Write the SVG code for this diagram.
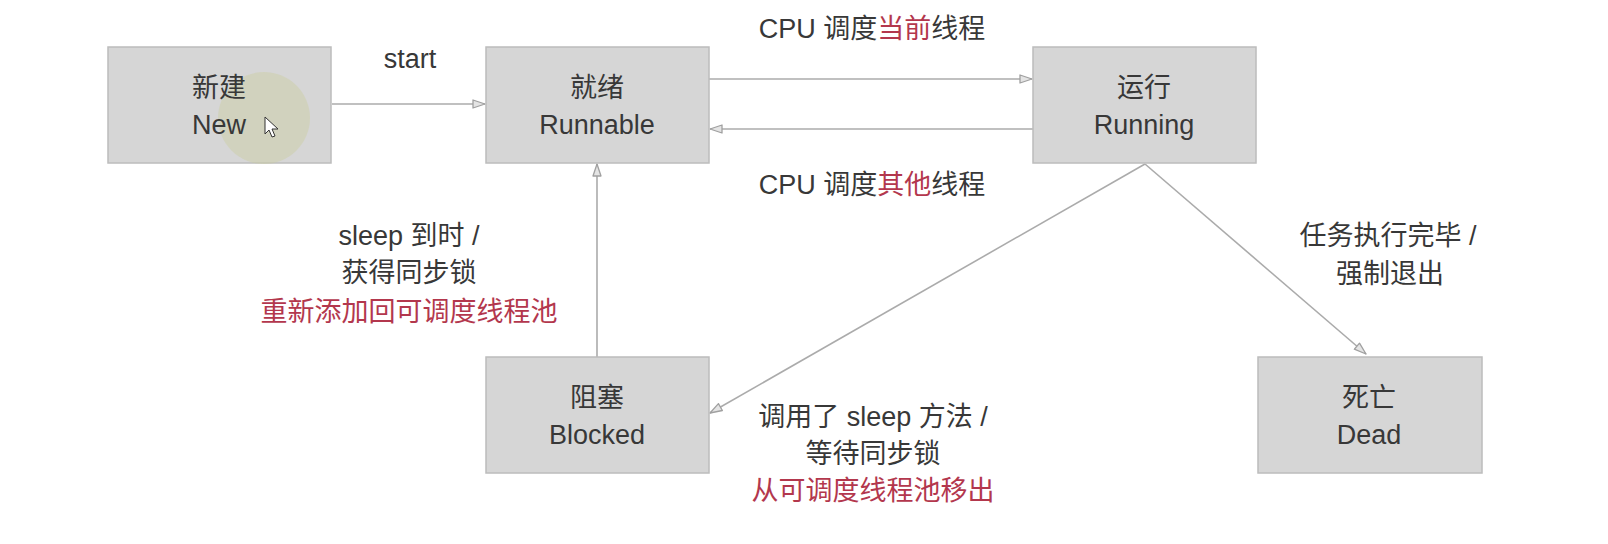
<svg xmlns="http://www.w3.org/2000/svg" width="1608" height="544" viewBox="0 0 1608 544">
<style>
.box{fill:#d6d6d6;stroke:#bcbcbc;stroke-width:1.5}
.t{font-family:"Liberation Sans","Noto Sans CJK SC",sans-serif;font-size:27px;fill:#383838;text-anchor:middle}
.lbl{font-family:"Liberation Sans","Noto Sans CJK SC",sans-serif;font-size:27px;fill:#383838;text-anchor:middle}
.red{fill:#b3374d}
.edge{fill:none;stroke:#ababab;stroke-width:1.6;marker-end:url(#arr)}
</style>
<defs>
<marker id="arr" markerUnits="userSpaceOnUse" markerWidth="16" markerHeight="12" refX="13" refY="5" orient="auto">
<path d="M1,1 L13,5 L1,9 z" fill="#e4e4e4" stroke="#a0a0a0" stroke-width="1.3" stroke-linejoin="round"/>
</marker>
</defs>
<rect width="1608" height="544" fill="#ffffff"/>
<g id="edges">
<path class="edge" d="M332,104 L485,104"/>
<path class="edge" d="M709,79 L1032,79"/>
<path class="edge" d="M1033,129 L710,129"/>
<path class="edge" d="M597,357 L597,164"/>
<path class="edge" d="M1145,164 L710,413"/>
<path class="edge" d="M1145,164 L1366,354"/>
<text class="lbl" x="410" y="68">start</text>
<text class="lbl" x="872" y="38">CPU 调度<tspan class="red">当前</tspan>线程</text>
<text class="lbl" x="872" y="194">CPU 调度<tspan class="red">其他</tspan>线程</text>
<text class="lbl" x="409" y="245">sleep 到时 /</text>
<text class="lbl" x="409" y="282">获得同步锁</text>
<text class="lbl red" x="409" y="321">重新添加回可调度线程池</text>
<text class="lbl" x="873" y="426">调用了 sleep 方法 /</text>
<text class="lbl" x="873" y="463">等待同步锁</text>
<text class="lbl red" x="873" y="500">从可调度线程池移出</text>
<text class="lbl" x="1388" y="245">任务执行完毕 /</text>
<text class="lbl" x="1390" y="283">强制退出</text>
</g>
<g id="node-new">
<rect class="box" x="108" y="47" width="223" height="116"/>
<circle cx="264" cy="118" r="46" fill="#cacc9c" fill-opacity="0.4"/>
<text class="t" x="219" y="97">新建</text>
<text class="t" x="219" y="134">New</text>
<path d="M265,117 L265,134 L269,130 L272,137 L275,136 L272,129 L278,129 Z" fill="#ffffff" stroke="#333333" stroke-width="1"/>
</g>
<g id="node-runnable">
<rect class="box" x="486" y="47" width="223" height="116"/>
<text class="t" x="597" y="97">就绪</text>
<text class="t" x="597" y="134">Runnable</text>
</g>
<g id="node-running">
<rect class="box" x="1033" y="47" width="223" height="116"/>
<text class="t" x="1144" y="97">运行</text>
<text class="t" x="1144" y="134">Running</text>
</g>
<g id="node-blocked">
<rect class="box" x="486" y="357" width="223" height="116"/>
<text class="t" x="597" y="407">阻塞</text>
<text class="t" x="597" y="444">Blocked</text>
</g>
<g id="node-dead">
<rect class="box" x="1258" y="357" width="224" height="116"/>
<text class="t" x="1369" y="407">死亡</text>
<text class="t" x="1369" y="444">Dead</text>
</g>
</svg>
